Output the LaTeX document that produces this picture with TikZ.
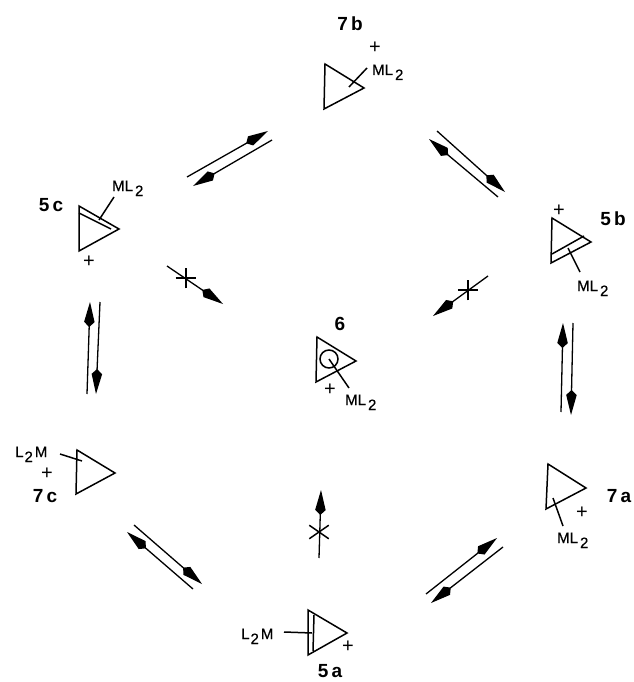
\documentclass[tikz,border=0pt]{standalone}
\usepackage{fontspec}
\setmainfont{Liberation Sans}
\newfontfamily\letterfont[FakeBold=0.5]{Liberation Sans}
\usetikzlibrary{arrows.meta,shapes.misc}
\newcommand{\lowtwo}{\raisebox{-5pt}{2}}
\tikzset{
  ring/.style={line width=1.5pt,line join=miter},
  bond/.style={line width=1.5pt},
  eqarrow/.style={line width=1.3pt,-{Kite[length=25pt,width=10.5pt,inset=5pt]}},
  crossmark/.style={draw,cross out,line width=1.5pt,minimum width=18pt,minimum height=12pt,inner sep=0pt},
  ligand/.style={anchor=base west,inner sep=0pt,font=\fontsize{15}{16}\selectfont\letterfont},
  charge/.style={inner sep=0pt,font=\fontsize{20}{22}\selectfont},
  isomer/.style={inner sep=0pt,font=\fontsize{19}{22}\selectfont\bfseries}
}
\begin{document}
\begin{tikzpicture}[x=1pt,y=-1pt]
    \useasboundingbox (0,0) rectangle (633,682);
    % rings
    \foreach \a/\b/\c in {{325,64}/{364,88}/{324,109}, {79,206}/{119,229}/{79,251}, {552,218}/{591,242}/{551,263},
      {317,337}/{356,361}/{316,382}, {77,450}/{115,473}/{76,494}, {308,610}/{347,633}/{308,655}, {548,464}/{586,488}/{546,509}} {
      \draw[ring] (\a) -- (\b) -- (\c) -- cycle;
    }
    % inner lines of the ring faces
    \foreach \n/\p/\q in {fc/{79,213}/{111,229}, fb/{552,254}/{584,236}, fa/{314,615}/{313,651}} {
      \coordinate (\n s) at (\p);
      \coordinate (\n e) at (\q);
      \draw[ring] (\n s) -- (\n e);
    }
    \coordinate (cen) at (329,359);
    \draw[ring] (cen) circle (9);
    % labels
    \node[isomer] (n7b) at (350,24) {7\,b};
    \node[isomer] (n5c) at (51,205) {5\,c};
    \node[isomer] (n5b) at (613,219) {5\,b};
    \node[isomer] (n6) at (340,324) {6};
    \node[isomer] (n7c) at (45,496) {7\,c};
    \node[isomer] (n5a) at (330,671) {5\,a};
    \node[isomer] (n7a) at (619,496) {7\,a};
    \node[ligand] (m7b) at (372,75) {ML\hspace{2pt}\lowtwo};
    \node[ligand] (m5c) at (112,191) {ML\hspace{2pt}\lowtwo};
    \node[ligand] (m5b) at (577,291) {ML\hspace{2pt}\lowtwo};
    \node[ligand] (m6) at (345,405) {ML\hspace{2pt}\lowtwo};
    \node[ligand] (m7a) at (557,543) {ML\hspace{2pt}\lowtwo};
    \node[ligand] (m7c) at (15,457) {L\hspace{1pt}\lowtwo\hspace{2pt}M};
    \node[ligand] (m5a) at (241,639) {L\hspace{1pt}\lowtwo\hspace{2pt}M};
    \node[charge] (p7b) at (375,48) {+};
    \node[charge] (p5c) at (89,262) {+};
    \node[charge] (p5b) at (559,211) {+};
    \node[charge] (p6) at (330,390) {+};
    \node[charge] (p7c) at (47,474) {+};
    \node[charge] (p5a) at (348,647) {+};
    \node[charge] (p7a) at (582,513) {+};
    % bonds to metal
    \foreach \n/\p/\q in {b7b/{349,87}/{367,68}, b5c/{99,220}/{114,197}, b5b/{568,248}/{580,272}, b6/{329,359}/{349,388},
      b7a/{553,498}/{563,526}, b7c/{60,454}/{82,461}, b5a/{284,632}/{312,633}} {
      \coordinate (\n s) at (\p);
      \coordinate (\n e) at (\q);
      \draw[bond] (\n s) -- (\n e);
    }
    % equilibrium arrows and blocked arrows
    \foreach \n/\p/\q in {ua/{187,177}/{268,131}, ub/{272,140}/{193,186}, va/{437,131}/{505,192}, vb/{498,197}/{429,139},
      wa/{87,394}/{90,302}, wb/{100,302}/{96,394}, xa/{561,412}/{563,323}, xb/{573,323}/{571,415},
      ya/{134,525}/{202,584}, yb/{193,589}/{127,532}, za/{426,594}/{497,538}, zb/{503,547}/{431,603},
      sc/{167,266}/{223,304}, sb/{488,276}/{433,316}, sa/{319,558}/{321,490}} {
      \coordinate (\n s) at (\p);
      \coordinate (\n e) at (\q);
      \draw[eqarrow] (\n s) -- (\n e);
    }
    \node[crossmark,minimum width=13pt,minimum height=13pt,rotate=45] (c5c) at (186,278) {};
    \node[crossmark,minimum width=13pt,minimum height=13pt,rotate=45] (c5b) at (468,290) {};
    \node[crossmark] (c5a) at (319,532) {};
\end{tikzpicture}
\end{document}
